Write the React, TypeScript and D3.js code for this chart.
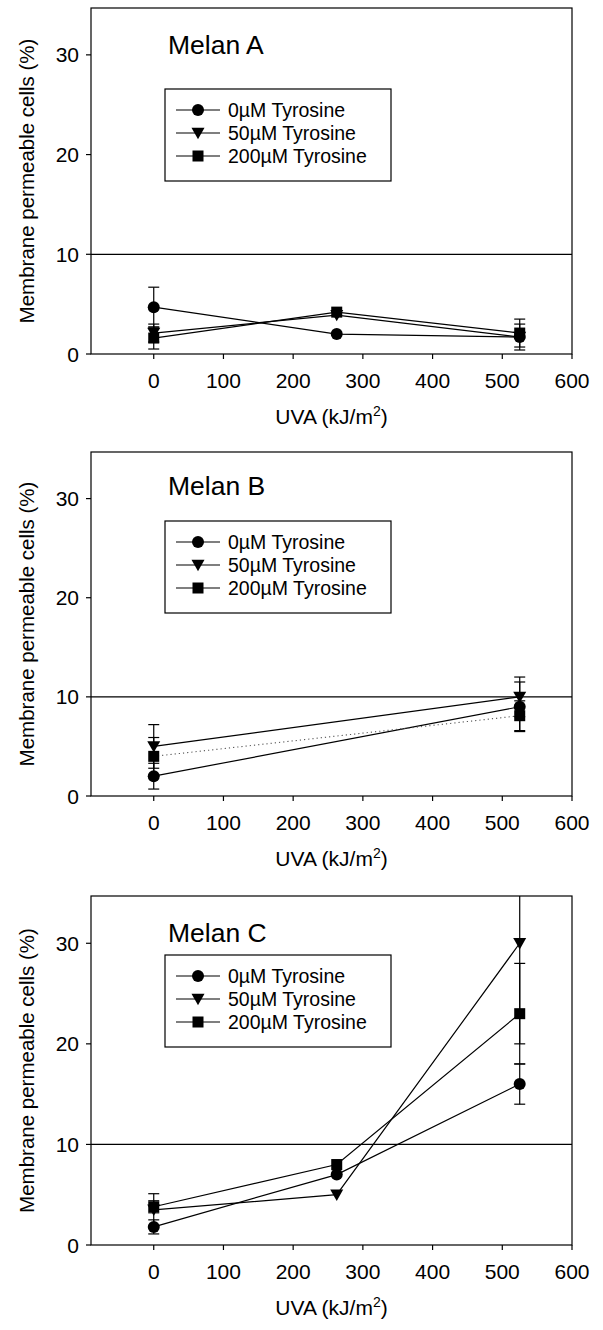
import React from "react";
import * as d3 from "d3";

// UVA doses (kJ/m²)
const doses3 = [0, 262.5, 525];
const doses2 = [0, 525];

// Series labels
const seriesNames = ["0µM Tyrosine", "50µM Tyrosine", "200µM Tyrosine"];
const panelTitles = ["Melan A", "Melan B", "Melan C"];

// Melan A: membrane permeable cells (%) and SD
const melanA_0 = [4.7, 2.0, 1.7];
const melanA_0_err = [2.0, 0, 0];
const melanA_50 = [2.1, 3.9, 1.7];
const melanA_50_err = [0.9, 0, 1.3];
const melanA_200 = [1.6, 4.2, 2.1];
const melanA_200_err = [1.1, 0, 1.4];

// Melan B
const melanB_0 = [2.0, 9.0];
const melanB_0_err = [1.3, 2.5];
const melanB_50 = [5.0, 10.0];
const melanB_50_err = [2.2, 2.0];
const melanB_200 = [4.0, 8.1];
const melanB_200_err = [1.9, 1.5];

// Melan C
const melanC_0 = [1.8, 7.0, 16.0];
const melanC_0_err = [0.7, 0, 2.0];
const melanC_50 = [3.5, 5.0, 30.0];
const melanC_50_err = [1.6, 0, 10.0];
const melanC_200 = [3.8, 8.0, 23.0];
const melanC_200_err = [0.6, 0, 5.0];

const xTicks = [0, 100, 200, 300, 400, 500, 600];
const yTicks = [0, 10, 20, 30];
const threshold = 10;

type Series = { x: number[]; y: number[]; err: number[]; marker: string; dotted?: boolean };

const panels: { title: string; series: Series[] }[] = [
  {
    title: panelTitles[0],
    series: [
      { x: doses3, y: melanA_0, err: melanA_0_err, marker: "circle" },
      { x: doses3, y: melanA_50, err: melanA_50_err, marker: "triangle" },
      { x: doses3, y: melanA_200, err: melanA_200_err, marker: "square" },
    ],
  },
  {
    title: panelTitles[1],
    series: [
      { x: doses2, y: melanB_0, err: melanB_0_err, marker: "circle" },
      { x: doses2, y: melanB_50, err: melanB_50_err, marker: "triangle" },
      { x: doses2, y: melanB_200, err: melanB_200_err, marker: "square", dotted: true },
    ],
  },
  {
    title: panelTitles[2],
    series: [
      { x: doses3, y: melanC_0, err: melanC_0_err, marker: "circle" },
      { x: doses3, y: melanC_50, err: melanC_50_err, marker: "triangle" },
      { x: doses3, y: melanC_200, err: melanC_200_err, marker: "square" },
    ],
  },
];

// Frame geometry of each panel
const frameLeft = 91;
const frameRight = 572;
const legendLeft = 165;
const legendRight = 391;
const frames = [
  { top: 8, bottom: 354, titleY: 54, boxTop: 89 },
  { top: 452, bottom: 796, titleY: 495, boxTop: 521 },
  { top: 896, bottom: 1245, titleY: 942, boxTop: 955 },
];
const rowOffsets = [21, 44, 67];
const boxHeight = 92;

const FONT = "'Liberation Sans', Arial, Helvetica, sans-serif";

function Marker({ type, cx, cy }: { type: string; cx: number; cy: number }) {
  if (type === "circle") return <circle cx={cx} cy={cy} r={6} fill="#000" />;
  if (type === "square")
    return <rect x={cx - 5.5} y={cy - 5.5} width={11} height={11} fill="#000" />;
  const s = 6.5;
  return (
    <path
      d={`M${cx - s},${cy - s * 0.8} L${cx + s},${cy - s * 0.8} L${cx},${cy + s * 0.95} Z`}
      fill="#000"
    />
  );
}

function Panel({ idx }: { idx: number }) {
  const f = frames[idx];
  const p = panels[idx];
  const x = d3.scaleLinear().domain([-90, 600]).range([frameLeft, frameRight]);
  const y = d3.scaleLinear().domain([0, 34.7]).range([f.bottom, f.top]);
  const line = d3
    .line<[number, number]>()
    .x((d) => x(d[0]))
    .y((d) => y(d[1]));
  const clipId = `clip-${idx}`;
  const midY = (f.top + f.bottom) / 2;
  const capW = 5.5;

  return (
    <g>
      <defs>
        <clipPath id={clipId}>
          <rect x={frameLeft} y={f.top} width={frameRight - frameLeft} height={f.bottom - f.top} />
        </clipPath>
      </defs>
      {/* threshold line */}
      <line x1={frameLeft} x2={frameRight} y1={y(threshold)} y2={y(threshold)} stroke="#000" strokeWidth={1.2} />
      {/* error bars, lines and markers */}
      <g clipPath={`url(#${clipId})`}>
        {p.series.map((s, si) => (
          <g key={si}>
            {s.x.map((xv, i) =>
              s.err[i] > 0 ? (
                <g key={i} stroke="#000" strokeWidth={1.2}>
                  <line x1={x(xv)} x2={x(xv)} y1={y(s.y[i] - s.err[i])} y2={y(s.y[i] + s.err[i])} />
                  <line x1={x(xv) - capW} x2={x(xv) + capW} y1={y(s.y[i] - s.err[i])} y2={y(s.y[i] - s.err[i])} />
                  <line x1={x(xv) - capW} x2={x(xv) + capW} y1={y(s.y[i] + s.err[i])} y2={y(s.y[i] + s.err[i])} />
                </g>
              ) : null
            )}
            <path
              d={line(s.x.map((xv, i) => [xv, s.y[i]] as [number, number])) || ""}
              fill="none"
              stroke={s.dotted ? "#555" : "#000"}
              strokeWidth={s.dotted ? 1.1 : 1.2}
              strokeDasharray={s.dotted ? "1.2,3" : undefined}
            />
          </g>
        ))}
        {p.series.map((s, si) =>
          s.x.map((xv, i) => <Marker key={`${si}-${i}`} type={s.marker} cx={x(xv)} cy={y(s.y[i])} />)
        )}
      </g>
      {/* frame */}
      <rect
        x={frameLeft}
        y={f.top}
        width={frameRight - frameLeft}
        height={f.bottom - f.top}
        fill="none"
        stroke="#000"
        strokeWidth={1.2}
      />
      {/* y axis ticks */}
      {yTicks.map((t) => (
        <g key={t}>
          <line x1={frameLeft - 5} x2={frameLeft} y1={y(t)} y2={y(t)} stroke="#000" strokeWidth={1.2} />
          <text x={frameLeft - 12} y={y(t) + 7.5} textAnchor="end" fontSize={21} fontFamily={FONT}>
            {t}
          </text>
        </g>
      ))}
      {/* x axis ticks */}
      {xTicks.map((t) => (
        <g key={t}>
          <line x1={x(t)} x2={x(t)} y1={f.bottom} y2={f.bottom + 5} stroke="#000" strokeWidth={1.2} />
          <text x={x(t)} y={f.bottom + 34} textAnchor="middle" fontSize={21} fontFamily={FONT}>
            {t}
          </text>
        </g>
      ))}
      {/* axis titles */}
      <text
        x={(frameLeft + frameRight) / 2}
        y={f.bottom + 70}
        textAnchor="middle"
        fontSize={21}
        fontFamily={FONT}
      >
        UVA (kJ/m
        <tspan fontSize={14} dy={-8}>2</tspan>
        <tspan dy={8}>)</tspan>
      </text>
      <text
        transform={`translate(34,${midY}) rotate(-90)`}
        textAnchor="middle"
        fontSize={20.5}
        fontFamily={FONT}
      >
        Membrane permeable cells (%)
      </text>
      {/* panel title */}
      <text x={168} y={f.titleY} fontSize={26.5} fontFamily={FONT}>
        {p.title}
      </text>
      {/* legend */}
      <rect
        x={legendLeft}
        y={f.boxTop}
        width={legendRight - legendLeft}
        height={boxHeight}
        fill="#fff"
        stroke="#000"
        strokeWidth={1.2}
      />
      {seriesNames.map((name, i) => {
        const ry = f.boxTop + rowOffsets[i];
        return (
          <g key={name}>
            <line x1={176} x2={220} y1={ry} y2={ry} stroke="#000" strokeWidth={1.2} />
            <Marker type={p.series[i].marker} cx={198} cy={ry} />
            <text x={228} y={ry + 7} fontSize={19.5} fontFamily={FONT}>
              {name}
            </text>
          </g>
        );
      })}
    </g>
  );
}

export default function App() {
  return (
    <svg
      width={603}
      height={1330}
      viewBox="0 0 603 1330"
      style={{ position: "absolute", left: 0, top: 0, background: "#fff" }}
    >
      <rect width={603} height={1330} fill="#fff" />
      {panels.map((_, i) => (
        <Panel key={i} idx={i} />
      ))}
    </svg>
  );
}
